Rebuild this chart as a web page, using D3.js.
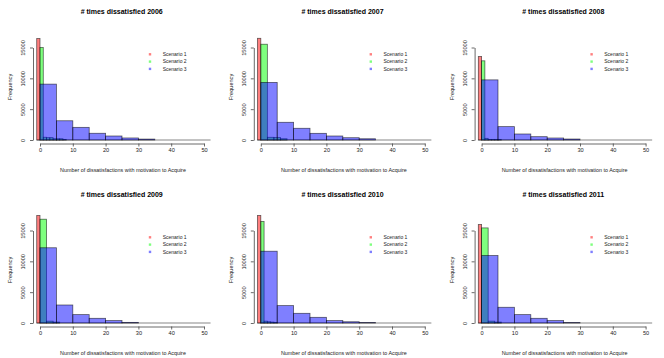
<!DOCTYPE html>
<html>
<head>
<meta charset="utf-8">
<script src="https://cdn.jsdelivr.net/npm/d3@7"></script>
<style>
body { margin: 0; background: #fff; }
svg { display: block; font-family: "Liberation Sans", Arial, sans-serif; }
</style>
</head>
<body>
<script>
// one panel per year
var years = [2006, 2007, 2008, 2009, 2010, 2011];
var scenarios = ["Scenario 1", "Scenario 2", "Scenario 3"];
var colors = ["rgba(255,0,0,0.5)", "rgba(0,255,0,0.5)", "rgba(0,0,255,0.5)"];

// scenario 1: single bin [-1,0]
var s1Start = -1, s1Width = 1;
var s1Counts = [[16450], [16490], [13540], [17440], [17440], [15970]];

// scenario 2: bins from 0, width per year
var s2Width = [1, 2, 1, 2, 1, 2];
var s2Counts = [
  [15000, 450, 380, 380, 200, 200, 200, 100],
  [15530, 440, 390, 200],
  [12840, 270, 100, 100, 100, 100],
  [16830, 300, 150],
  [16460, 300, 200, 150, 100],
  [15420, 300, 150]
];

// scenario 3: bins of width 5 from 0
var s3Width = 5;
var s3Counts = [
  [9060, 3120, 2050, 1090, 650, 330, 150],
  [9340, 2870, 1900, 1080, 650, 370, 200],
  [9750, 2170, 975, 540, 325, 160],
  [12200, 2920, 1360, 760, 390, 100],
  [11640, 2820, 1570, 920, 390, 200, 80],
  [10940, 2550, 1360, 760, 390, 80]
];

var xTicks = [0, 10, 20, 30, 40, 50];
var yTicks = [0, 5000, 10000, 15000];
var binRange = [-1, 52];

var svgWidth = 664, svgHeight = 358;
var colW = 220.8, rowH = 183;

var svg = d3.select("body").append("svg")
  .attr("width", svgWidth)
  .attr("height", svgHeight);

var x = d3.scaleLinear().domain([0, 50]).range([40, 204]);
var y = d3.scaleLinear().domain([0, 15000]).range([140, 47.5]);

function drawBars(g, start, width, counts, fill) {
  var data = counts.map(function(c, i) {
    return {x0: start + i * width, x1: start + (i + 1) * width, n: c};
  });
  g.selectAll(null)
    .data(data)
    .enter()
    .append("rect")
    .attr("x", function(d) { return x(d.x0); })
    .attr("width", function(d) { return x(d.x1) - x(d.x0); })
    .attr("y", function(d) { return y(d.n); })
    .attr("height", function(d) { return y(0) - y(d.n); })
    .attr("fill", fill)
    .attr("stroke", "#000")
    .attr("stroke-opacity", 0.6)
    .attr("stroke-width", 0.8);
}

years.forEach(function(year, k) {
  var col = k % 3, row = Math.floor(k / 3);
  var g = svg.append("g")
    .attr("transform", "translate(" + (col * colW) + "," + (row * rowH) + ")");

  // zero-count bins show as a line
  g.append("line")
    .attr("x1", x(binRange[0])).attr("x2", x(binRange[1]))
    .attr("y1", y(0)).attr("y2", y(0))
    .attr("stroke", "#000").attr("stroke-opacity", 0.6).attr("stroke-width", 0.8);

  drawBars(g, s1Start, s1Width, s1Counts[k], colors[0]);
  drawBars(g, 0, s2Width[k], s2Counts[k], colors[1]);
  drawBars(g, 0, s3Width, s3Counts[k], colors[2]);

  // x axis
  var gX = g.append("g")
    .attr("transform", "translate(0,143.5)")
    .call(d3.axisBottom(x).tickValues(xTicks).tickSize(3).tickSizeOuter(0).tickPadding(1.5));
  gX.selectAll("path, line").attr("stroke", "#444").attr("stroke-width", 0.8);
  gX.selectAll("text").style("font-size", "5.6px").attr("fill", "#222");

  // y axis
  var gY = g.append("g")
    .attr("transform", "translate(33,0)")
    .call(d3.axisLeft(y).tickValues(yTicks).tickFormat(d3.format("d")).tickSize(3).tickSizeOuter(0));
  gY.selectAll("path, line").attr("stroke", "#444").attr("stroke-width", 0.8);
  gY.selectAll("text")
    .attr("transform", "rotate(-90)")
    .attr("x", 0).attr("y", -8).attr("dy", 0)
    .style("text-anchor", "middle")
    .style("font-size", "5.6px")
    .attr("fill", "#222");

  // title
  g.append("text")
    .attr("x", 121.7).attr("y", 14)
    .attr("text-anchor", "middle")
    .style("font-size", "7px").style("font-weight", "bold")
    .attr("fill", "#000")
    .text("# times dissatisfied " + year);

  // axis titles
  g.append("text")
    .attr("x", 123).attr("y", 172)
    .attr("text-anchor", "middle")
    .style("font-size", "5.4px")
    .attr("fill", "#222")
    .text("Number of dissatisfactions with motivation to Acquire");

  g.append("text")
    .attr("transform", "translate(12,87) rotate(-90)")
    .attr("text-anchor", "middle")
    .style("font-size", "5.6px")
    .attr("fill", "#222")
    .text("Frequency");

  // legend
  var leg = g.selectAll(".leg")
    .data(scenarios)
    .enter()
    .append("g")
    .attr("transform", function(d, i) { return "translate(150," + (54.3 + i * 7.3) + ")"; });
  leg.append("rect")
    .attr("x", -1.2).attr("y", -1.2)
    .attr("width", 2.4).attr("height", 2.4)
    .attr("fill", function(d, i) { return colors[i]; });
  leg.append("text")
    .attr("x", 12.7).attr("y", 1.8)
    .style("font-size", "5px")
    .attr("fill", "#222")
    .text(function(d) { return d; });
});
</script>
</body>
</html>
